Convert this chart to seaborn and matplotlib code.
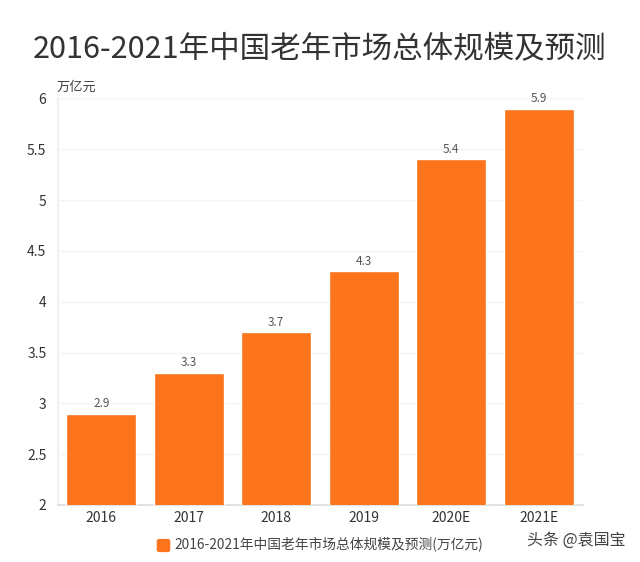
import matplotlib
matplotlib.use('Agg')
import matplotlib.pyplot as plt
from matplotlib.patches import FancyBboxPatch
import pandas as pd
import seaborn as sns

# data
years = ['2016', '2017', '2018', '2019', '2020E', '2021E']
market_size = [2.9, 3.3, 3.7, 4.3, 5.4, 5.9]
value_labels = ['2.9', '3.3', '3.7', '4.3', '5.4', '5.9']
y_ticks = [2, 2.5, 3, 3.5, 4, 4.5, 5, 5.5, 6]
y_tick_labels = ['2', '2.5', '3', '3.5', '4', '4.5', '5', '5.5', '6']
title = '2016-2021年中国老年市场总体规模及预测'
series_name = '2016-2021年中国老年市场总体规模及预测(万亿元)'
unit = '万亿元'
watermark = '头条 @袁国宝'

orange = '#fc741c'
text_grey = '#444444'

sns.set_style('white')
plt.rcParams['font.family'] = ['Noto Sans CJK SC', 'DejaVu Sans']

df = pd.DataFrame({'year': years, 'size': market_size})

fig = plt.figure(figsize=(6.4, 5.62), dpi=100)
ax = fig.add_axes([57.5 / 640, 57 / 562, 525 / 640, 406.5 / 562])

sns.barplot(data=df, x='year', y='size', color=orange, saturation=1,
            width=0.8, ax=ax, zorder=3)

ax.set_xlim(-0.5, 5.5)
ax.set_ylim(2, 6)
ax.set_yticks(y_ticks, y_tick_labels)
ax.set_xlabel('')
ax.set_ylabel('')
ax.tick_params(axis='both', length=0, labelsize=10, labelcolor='#333333')
ax.tick_params(axis='x', pad=4)
ax.tick_params(axis='y', pad=8)

## grid and frame
ax.grid(axis='y', color='#f4f4f4', linewidth=1, zorder=0)
sns.despine(ax=ax, top=True, right=True)
ax.spines['left'].set_color('#eeeeee')
ax.spines['bottom'].set_color('#dddddd')
ax.spines['left'].set_linewidth(1.2)
ax.spines['bottom'].set_linewidth(1.2)

## value labels
ax.bar_label(ax.containers[0], labels=value_labels, padding=2.5,
             fontsize=8.5, color='#555555')

## texts
fig.text(320 / 640, 1 - 49 / 562, title, ha='center', va='center',
         fontsize=22, color='#333333')
fig.text(57 / 640, 1 - 87 / 562, unit, ha='left', va='center',
         fontsize=9.5, color=text_grey)

## legend
fig.add_artist(FancyBboxPatch((158 / 640, 1 - 551 / 562), 11 / 640, 11 / 562,
                              boxstyle='round,pad=0.002,rounding_size=0.004',
                              transform=fig.transFigure, facecolor=orange,
                              edgecolor='none'))
fig.text(174 / 640, 1 - 544 / 562, series_name, ha='left', va='center',
         fontsize=9.9, color=text_grey)
fig.text(626 / 640, 1 - 540 / 562, watermark, ha='right', va='center',
         fontsize=11.5, color='#444444')

plt.savefig('out.png', dpi=100)
